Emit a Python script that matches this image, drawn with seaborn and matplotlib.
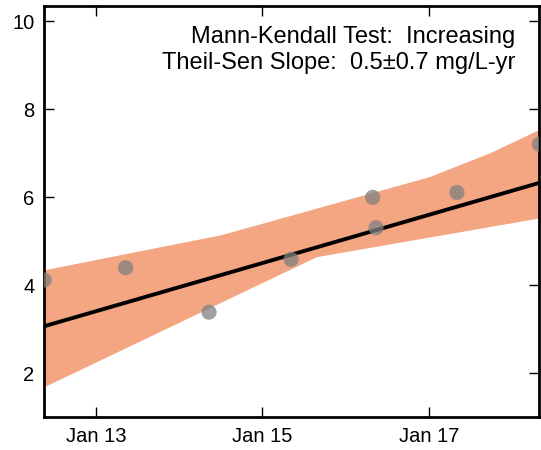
import numpy as np
import pandas as pd
import matplotlib
matplotlib.use("Agg")
import matplotlib.pyplot as plt
import matplotlib.dates as mdates
import seaborn as sns

# sample data
sample_dates = pd.to_datetime([
    "2012-05-19", "2013-05-11", "2014-05-12", "2015-05-07",
    "2016-04-29", "2016-05-14", "2017-05-04", "2018-05-01",
])
concentration = [4.12, 4.40, 3.39, 4.59, 6.00, 5.31, 6.11, 7.21]

# Theil-Sen fit: value at first sample and slope per year
trend_start = 3.07
trend_slope = 0.548

# confidence band outline
upper_dates = pd.to_datetime(["2012-05-19", "2014-07-07", "2017-01-05", "2017-09-26", "2018-05-01"])
upper_vals = [4.34, 5.14, 6.46, 7.00, 7.53]
lower_dates = pd.to_datetime(["2012-05-19", "2015-08-28", "2018-05-01"])
lower_vals = [1.68, 4.64, 5.52]

tick_dates = pd.to_datetime(["2013-01-01", "2015-01-01", "2017-01-01"])
tick_labels = ["Jan 13", "Jan 15", "Jan 17"]
y_ticks = [2, 4, 6, 8, 10]

label_mk = "Mann-Kendall Test:  Increasing"
label_ts = "Theil-Sen Slope:  0.5\u00b10.7 mg/L-yr"

sns.set_style("ticks")
plt.rcParams["font.family"] = ["Liberation Sans", "DejaVu Sans"]
plt.rcParams["text.color"] = "black"
plt.rcParams["axes.edgecolor"] = "black"

fig = plt.figure(figsize=(5.41, 4.5), dpi=100)
ax = fig.add_axes([0.0817, 0.0727, 0.9155, 0.914])

# band
band_x = list(mdates.date2num(upper_dates)) + list(mdates.date2num(lower_dates))[::-1]
band_y = upper_vals + lower_vals[::-1]
ax.fill(band_x, band_y, color="#f4a582", lw=0, zorder=1)

# trend line
years = (sample_dates - sample_dates[0]).days / 365.25
trend = pd.DataFrame({"date": sample_dates, "value": trend_start + trend_slope * np.asarray(years)})
sns.lineplot(data=trend, x="date", y="value", color="black", lw=2.8, ax=ax, zorder=2)

# points
pts = pd.DataFrame({"date": sample_dates, "value": concentration})
sns.scatterplot(data=pts, x="date", y="value", color="grey", alpha=0.75, s=120,
                edgecolor="none", ax=ax, zorder=3)

ax.set_xlim(sample_dates[0], sample_dates[-1])
ax.set_ylim(1, 10.35)
ax.set_xticks(tick_dates)
ax.set_xticklabels(tick_labels)
ax.set_yticks(y_ticks)
ax.set_xlabel("")
ax.set_ylabel("")

ax.tick_params(direction="in", length=7, width=1.0, labelsize=14.5,
               top=True, right=True, pad=7, colors="black")
for side in ax.spines.values():
    side.set_linewidth(2.0)
    side.set_color("black")
    side.set_visible(True)

ax.text(0.9505, 0.9108, label_mk, transform=ax.transAxes, ha="right", va="baseline",
        fontsize=17, color="black")
ax.text(0.9505, 0.8465, label_ts, transform=ax.transAxes, ha="right", va="baseline",
        fontsize=17, color="black")

fig.savefig("out.png", dpi=100)
